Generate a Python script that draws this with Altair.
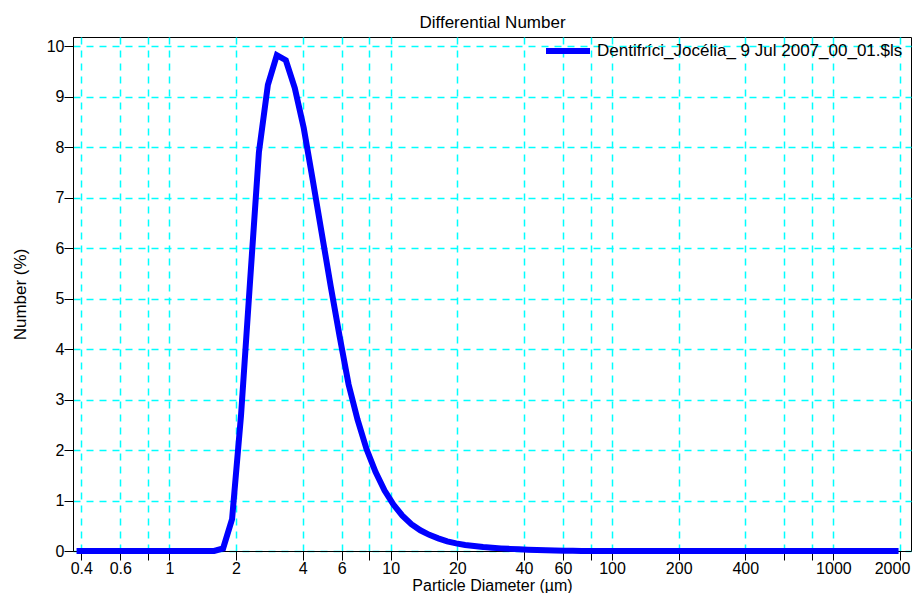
import altair as alt
import pandas as pd

# Channel mid-point diameters (µm)
diameter_um = [0.3929, 0.4317, 0.4736, 0.5197, 0.5710, 0.6266, 0.6884, 0.7554, 0.8288, 0.9105,
               0.9996, 1.097, 1.204, 1.321, 1.451, 1.593,
               1.749, 1.920, 2.107, 2.312, 2.539, 2.787, 3.059, 3.359, 3.687, 4.046,
               4.444, 4.878, 5.355, 5.879, 6.452, 7.084, 7.775, 8.536, 9.371, 10.29,
               11.29, 12.40, 13.61, 14.94, 16.40, 18.00, 19.76, 21.70, 23.82, 26.14,
               28.70, 31.51, 34.59, 37.97, 41.68, 45.76, 50.23,
               55.14, 60.53, 66.45, 72.94, 80.08, 87.91, 96.50, 105.9, 116.3, 127.6,
               140.1, 153.8, 168.9, 185.2, 203.5, 223.4, 245.3, 269.2, 295.6, 324.4,
               356.1, 390.9, 429.2, 471.2, 517.2, 567.8, 623.3, 684.2, 751.1, 824.5,
               905.2, 993.6, 1091, 1198, 1315, 1443, 1584, 1739, 1909]

# Differential number (%)
number_pct = [0, 0, 0, 0, 0, 0, 0, 0, 0, 0,
              0, 0, 0, 0, 0, 0,
              0.05, 0.63, 2.68, 5.3, 7.9, 9.23, 9.82, 9.72, 9.17, 8.38,
              7.35, 6.3, 5.25, 4.25, 3.3, 2.6, 2.02, 1.57, 1.2, 0.92,
              0.70, 0.53, 0.41, 0.32, 0.25, 0.19, 0.15, 0.12, 0.10, 0.08,
              0.065, 0.052, 0.042, 0.034, 0.026, 0.02, 0.015,
              0.01, 0.007, 0.004, 0.002, 0, 0, 0, 0, 0, 0,
              0, 0, 0, 0, 0, 0, 0, 0, 0, 0,
              0, 0, 0, 0, 0, 0, 0, 0, 0, 0,
              0, 0, 0, 0, 0, 0, 0, 0, 0]

series_name = "Dentifríci_Jocélia_ 9 Jul 2007_00_01.$ls"
chart_title = "Differential Number"

x_tick_values = [0.4, 0.6, 0.8, 1, 2, 4, 6, 8, 10, 20, 40, 60, 80, 100, 200, 400, 600, 800, 1000, 2000]
x_unlabeled = [0.8, 8, 80, 600, 800]
y_tick_values = [0, 1, 2, 3, 4, 5, 6, 7, 8, 9, 10]

df = pd.DataFrame({"d": diameter_um, "n": number_pct, "s": [series_name] * len(diameter_um)})

FONT = "Liberation Sans"
hidden = "[" + ",".join(str(v) for v in x_unlabeled) + "]"
x_scale = alt.Scale(type="log", domain=[0.367, 2242], nice=False)
y_scale = alt.Scale(domain=[0, 10.18], nice=False)

line = alt.Chart(df).mark_line(strokeWidth=6, strokeCap="square").encode(
    x=alt.X("d:Q", scale=x_scale,
            axis=alt.Axis(values=x_tick_values,
                          labelExpr=f"indexof({hidden}, datum.value) >= 0 ? '' : format(datum.value, '~g')",
                          labelOffset={"condition": {"test": "datum.value >= 2000", "value": -8}, "value": 0},
                          title="Particle Diameter (µm)", titleFontSize=16,
                          titleBaseline="alphabetic", titleY=39.5)),
    y=alt.Y("n:Q", scale=y_scale,
            axis=alt.Axis(values=y_tick_values, title="Number (%)",
                          titleBaseline="middle", titleX=-53)),
    color=alt.Color("s:N", scale=alt.Scale(range=["#0000ff"]),
                    legend=alt.Legend(title=None, orient="none", legendX=470, legendY=-11,
                                      symbolType="stroke", symbolStrokeWidth=6, symbolSize=1936,
                                      labelFontSize=17, labelFont=FONT, labelColor="black",
                                      labelOffset=4, labelLimit=0, padding=0)),
)

# top axis carrying the chart title
top = alt.Chart(df).mark_line(opacity=0).encode(
    x=alt.X("d:Q", scale=x_scale,
            axis=alt.Axis(orient="top", title=chart_title, labels=False, ticks=False,
                          domain=False, grid=False, titleFontSize=17,
                          titleBaseline="alphabetic", titleY=-10)),
    y=alt.Y("n:Q", scale=y_scale, axis=None),
)

chart = alt.layer(line, top).resolve_axis(x="independent", y="independent").properties(
    width=838, height=514,
    autosize=alt.AutoSizeParams(type="none"),
    padding={"left": 65, "top": 29, "right": 1, "bottom": 42},
).configure_view(
    stroke="black", strokeWidth=1
).configure_axis(
    grid=True, gridColor="#00ffff", gridDash=[7, 6], gridWidth=1.5,
    domainColor="black", domainWidth=1,
    tickColor="black", tickSize=9, tickWidth=1,
    labelFont=FONT, labelFontSize=16, labelColor="black", labelPadding=0,
    titleFont=FONT, titleFontSize=17, titleFontWeight="normal", titleColor="black",
)

chart.save("out.html", embed_options={"renderer": "svg", "actions": False})
